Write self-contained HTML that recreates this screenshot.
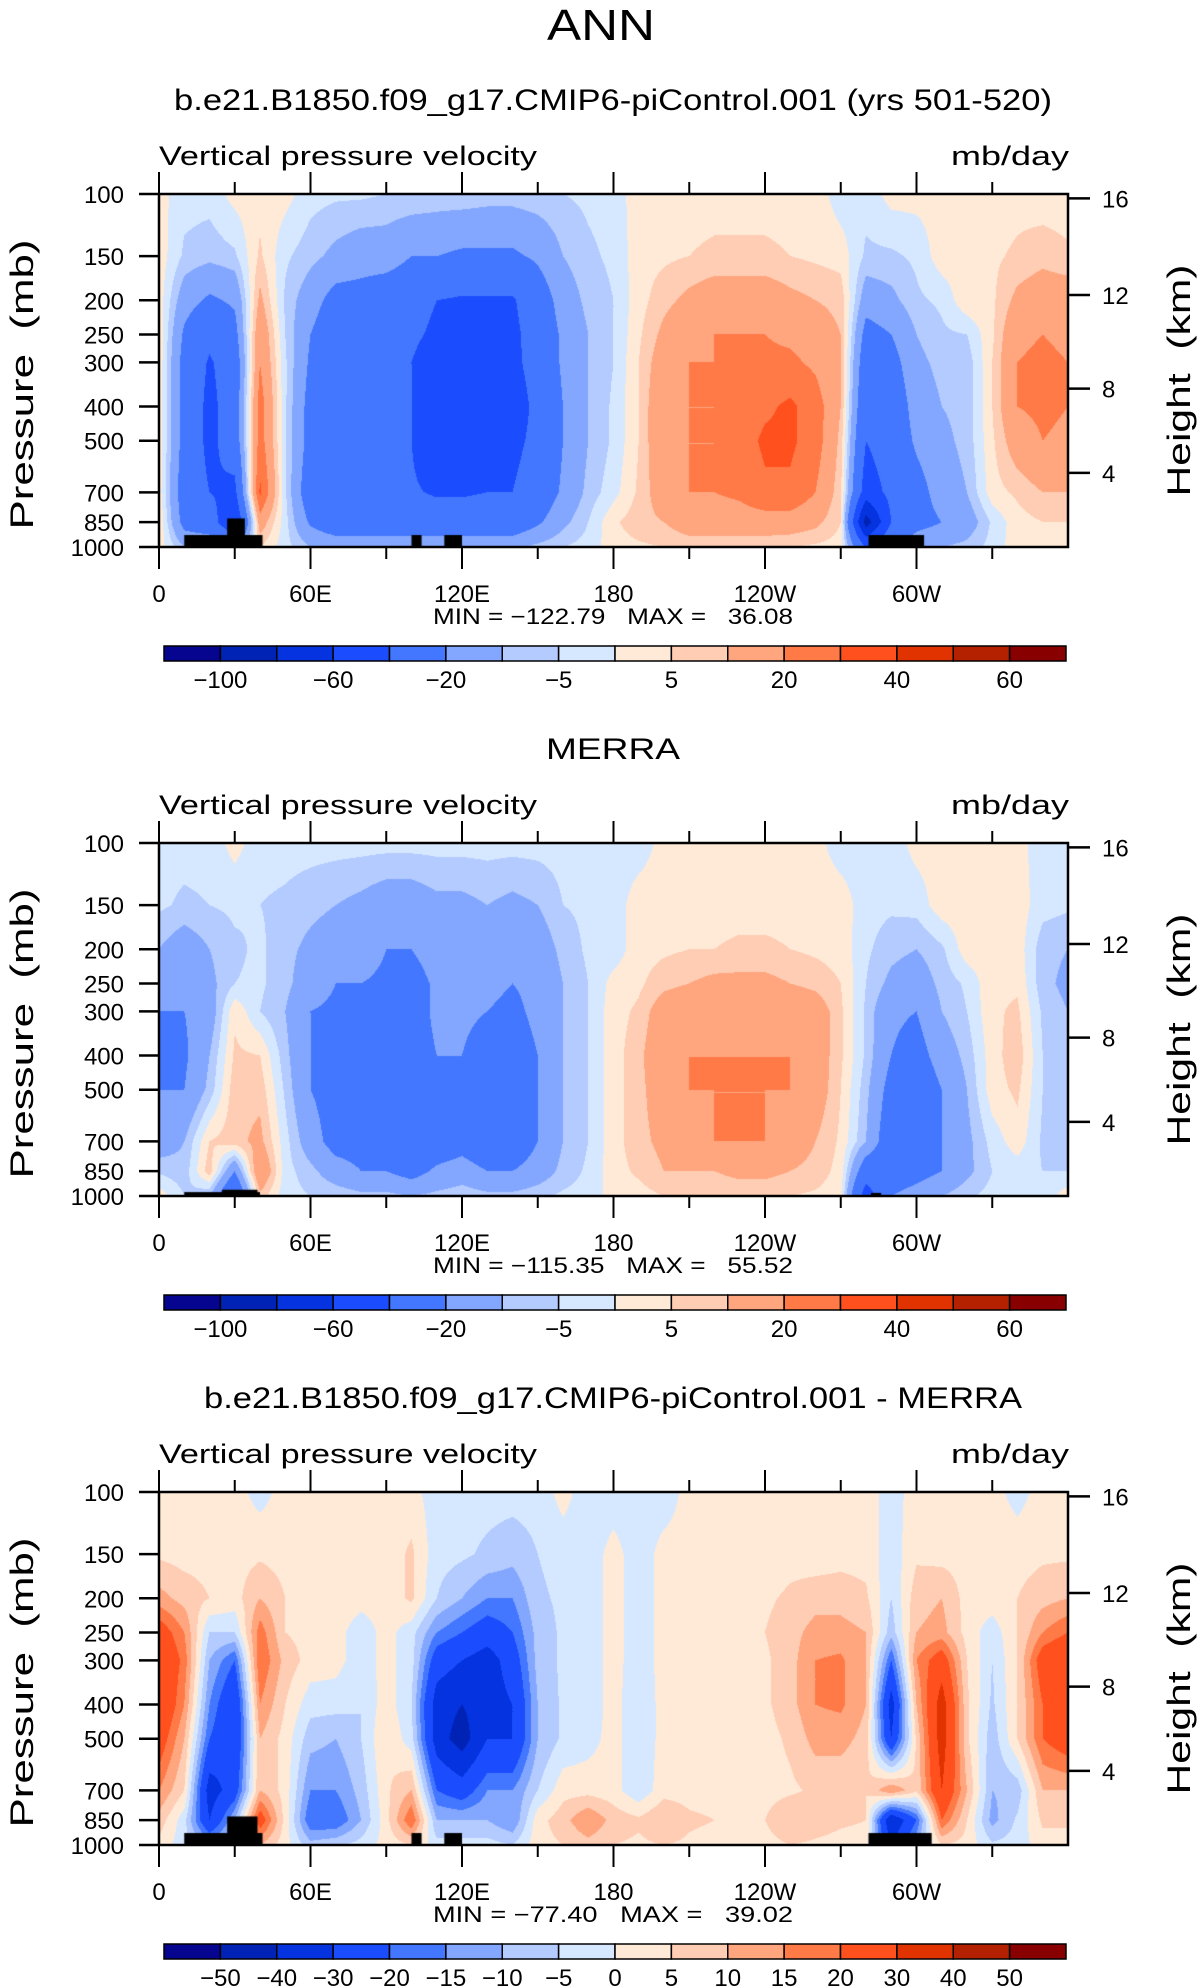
<!DOCTYPE html>
<html><head><meta charset="utf-8">
<style>
html,body{margin:0;padding:0;background:#fff;}
#wrap{position:relative;width:1202px;height:1987px;overflow:hidden;}
canvas{position:absolute;}
svg{position:absolute;left:0;top:0;}
text{font-family:"Liberation Sans",sans-serif;fill:#000;white-space:pre;}
</style></head>
<body>
<div id="wrap">
<canvas id="c0" width="909" height="353" style="left:159px;top:194px"></canvas>
<canvas id="c1" width="909" height="353" style="left:159px;top:843px"></canvas>
<canvas id="c2" width="909" height="353" style="left:159px;top:1492px"></canvas>
<svg id="svg" width="1202" height="1987"></svg>
</div>
<script>
const lons=[0,10,20,30,40,50,60,70,80,90,100,110,120,130,140,150,160,170,180,190,200,210,220,230,240,250,260,270,280,290,300,310,320,330,340,350,360];
const pLevels=[100,150,200,250,300,400,500,700,850,1000];
const panel1Values=[
[2,-3,-3,2,3,2,-3,-4,-4,-5,-5,-6,-6,-7,-7,-6,-5,-4,-3,3,3,3,3,3,3,3,3,-3,-3,2,2,2,2,2,3,2,2],
[3,-6,-8,-6,6,-4,-8,-12,-15,-15,-20,-20,-22,-22,-22,-18,-10,-6,-4,3,4,5,6,6,6,5,4,3,-6,-6,-4,3,3,4,6,8,6],
[3,-15,-22,-18,12,-6,-15,-25,-25,-28,-30,-40,-42,-42,-42,-28,-15,-8,-5,3,8,12,15,15,15,12,10,8,-15,-12,-6,-4,4,4,12,15,15],
[4,-22,-35,-25,18,-5,-20,-30,-30,-32,-35,-45,-45,-45,-45,-30,-18,-10,-5,4,12,18,20,20,20,18,15,10,-25,-20,-10,-6,-5,4,18,20,18],
[4,-25,-42,-30,20,-4,-22,-32,-32,-35,-40,-55,-60,-50,-45,-32,-18,-10,-5,5,15,20,20,20,22,22,18,10,-30,-25,-12,-8,-8,5,20,22,20],
[4,-25,-45,-30,25,-4,-25,-35,-35,-35,-40,-60,-60,-50,-50,-35,-20,-10,-4,5,18,20,20,22,28,32,25,10,-35,-30,-15,-10,-8,5,20,22,20],
[4,-25,-45,-30,25,-4,-25,-35,-35,-35,-40,-55,-55,-45,-45,-35,-20,-10,-4,5,18,20,20,25,32,32,25,8,-40,-30,-18,-12,-8,4,15,20,18],
[3,-28,-40,-45,32,-4,-30,-35,-35,-35,-38,-42,-42,-40,-40,-30,-18,-8,-2,6,15,20,20,22,28,28,20,6,-50,-35,-25,-15,-10,3,6,10,10],
[5,-25,-30,-60,15,-3,-22,-30,-30,-30,-30,-30,-30,-30,-30,-22,-12,-5,4,8,10,15,15,15,15,15,12,5,-90,-40,-25,-20,-15,-4,3,5,5],
[3,-10,-10,-20,5,-3,-10,-12,-12,-12,-12,-12,-12,-12,-12,-8,-5,-3,3,4,5,6,6,6,6,5,4,3,-40,-20,-12,-10,-8,-3,3,3,3]];
const panel2Values=[
[-3,-3,-3,2,-3,-3,-3,-3,-3,-3,-3,-3,-3,-3,-3,-3,-3,-3,-3,-3,2,2,2,2,2,2,2,-3,-3,-3,2,2,2,2,2,-3,-3],
[-4,-6,-5,-4,-5,-6,-8,-10,-12,-15,-15,-12,-12,-10,-12,-10,-5,-4,-3,3,3,3,3,3,3,3,3,3,-3,-4,-3,3,3,3,3,-3,-4],
[-10,-15,-10,-6,-4,-8,-12,-15,-15,-20,-20,-15,-15,-15,-18,-15,-8,-4,-3,3,4,5,5,6,6,5,4,3,-4,-8,-10,-6,3,3,3,-8,-10],
[-15,-18,-12,-5,-4,-8,-15,-20,-20,-22,-25,-18,-18,-18,-20,-18,-10,-5,2,4,8,10,12,12,12,10,8,5,-5,-12,-15,-8,-4,4,4,-8,-12],
[-20,-20,-15,4,-5,-10,-20,-22,-22,-22,-25,-18,-18,-20,-22,-18,-10,-5,3,6,15,18,18,18,18,18,15,6,-6,-18,-20,-10,-5,4,6,-6,-10],
[-22,-22,-10,6,5,-8,-20,-25,-25,-25,-25,-20,-20,-25,-25,-20,-10,-5,3,8,18,20,20,20,20,20,15,6,-6,-20,-25,-15,-8,3,8,-5,-8],
[-20,-20,-8,8,8,-6,-20,-25,-25,-25,-30,-25,-20,-30,-30,-20,-10,-5,3,8,15,20,20,20,20,20,15,5,-8,-25,-30,-20,-10,3,6,-5,-8],
[-15,-10,5,8,12,-3,-15,-25,-25,-25,-30,-28,-25,-30,-30,-20,-10,-5,3,8,12,18,20,20,20,15,10,4,-10,-30,-30,-20,-12,-3,3,-6,-8],
[-6,-8,8,-20,20,-3,-8,-15,-20,-20,-25,-18,-15,-20,-20,-15,-8,-4,3,6,10,10,10,12,12,10,8,3,-30,-30,-25,-20,-12,-5,-3,-5,-5],
[3,-5,-10,-40,8,-3,-5,-6,-8,-8,-10,-8,-6,-8,-8,-6,-4,-3,2,3,5,6,6,6,6,5,4,2,-50,-20,-15,-10,-6,-3,-3,-3,3]];
const panel3Values=[
[2,2,2,2,-2,2,2,2,2,2,2,-3,-3,-3,-3,-3,2,-3,-3,-3,-3,2,2,2,2,2,2,2,2,-2,2,2,2,2,-2,2,2],
[4,3,3,3,4,3,3,3,2,2,6,-3,-4,-6,-8,-5,-3,-3,2,-3,2,2,3,2,2,3,2,3,3,-3,4,3,3,3,3,4,4],
[12,8,5,3,10,5,3,3,2,2,6,-5,-10,-15,-15,-6,-4,-3,2,-3,2,2,3,3,4,6,8,8,6,-5,8,10,3,3,5,8,10],
[25,15,-5,-5,18,5,3,2,-3,2,-3,-15,-20,-25,-20,-8,-4,-3,2,-3,2,2,3,3,5,8,12,12,10,-8,10,12,3,-3,5,15,20],
[30,18,-10,-20,20,8,3,2,-3,2,-3,-25,-30,-35,-25,-8,-4,-3,2,-3,2,2,3,3,4,8,15,16,10,-20,15,25,5,-5,5,25,30],
[30,15,-15,-30,15,5,-3,-3,-5,3,-5,-35,-40,-35,-30,-10,-4,-3,2,-4,2,2,3,3,4,8,15,16,10,-35,10,35,6,-6,5,20,30],
[25,10,-20,-30,10,3,-8,-10,-5,5,-3,-35,-45,-30,-30,-10,-4,-2,2,-4,2,2,3,3,3,6,12,12,8,-30,6,35,6,-8,5,20,25],
[15,5,-35,-25,10,3,-15,-15,-8,4,10,-20,-25,-15,-15,-5,3,3,2,-4,3,3,3,3,3,4,6,6,5,15,6,30,10,-10,-8,10,10],
[8,-3,-30,-10,25,3,-20,-20,-10,3,20,-10,-10,-10,-15,3,8,15,8,6,10,6,5,5,5,10,8,6,5,-40,-20,20,5,-12,-4,6,6],
[3,-3,-10,-5,10,2,-8,-6,-3,2,5,-3,-3,-3,-5,3,5,8,5,4,5,4,3,3,3,5,4,3,3,-30,-10,5,3,-4,-3,3,3]];
const levelsAbs=[-100,-80,-60,-40,-20,-10,-5,0,5,10,20,30,40,50,60];
const labelsAbs=["−100","","−60","","−20","","−5","","5","","20","","40","","60"];
const levelsDiff=[-50,-40,-30,-20,-15,-10,-5,0,5,10,15,20,30,40,50];
const labelsDiff=["−50","−40","−30","−20","−15","−10","−5","0","5","10","15","20","30","40","50"];
const colors=['#05058f','#0022b5','#0433df','#1b4dff','#4477ff','#83a7ff','#b3cbff','#d6e8ff','#ffead8','#ffcdb3','#ffa67f','#ff7a47','#ff501e','#e03300','#b42100','#880000'];
const topoLand=[[[10,41,925],[27,34,830],[100,104,925],[113,120,925],[281,303,925]],
 [[10,40,975],[25,39,960],[282,286,980]],
 [[10,41,925],[27,39,830],[100,104,925],[113,120,925],[281,306,925]]];
const pressureTicks=[100,150,200,250,300,400,500,700,850,1000];
const heightTicks=[16,12,8,4];
const lonTicks=[0,30,60,90,120,150,180,210,240,270,300,330];
const lonLabels={0:"0",60:"60E",120:"120E",180:"180",240:"120W",300:"60W"};
const titles=["b.e21.B1850.f09_g17.CMIP6-piControl.001 (yrs 501-520)","MERRA","b.e21.B1850.f09_g17.CMIP6-piControl.001 - MERRA"];
const minmax=[["−122.79","36.08"],["−115.35","55.52"],["−77.40","39.02"]];

const X0=159,X1=1068,PT=194,PB=547,DY=649;
const W=X1-X0,H=PB-PT;
function xOf(lon){return lon/360*W;}
function yOf(p){return (Math.log10(p)-2)*H;}
function pOfZ(zkm){const z=zkm*1000;return z<=11000?1013.25*Math.pow(1-2.25577e-5*z,5.25588):226.32*Math.exp(-(z-11000)/6341.6);}
function colorIdx(v,levels){let k=0;while(k<levels.length&&v>=levels[k])k++;return k;}
function hex(c){return [parseInt(c.slice(1,3),16),parseInt(c.slice(3,5),16),parseInt(c.slice(5,7),16)];}
const rgb=colors.map(hex);
const lp=pLevels.map(p=>Math.log10(p));

function drawField(cid,vals,levels,topo){
  const cv=document.getElementById(cid),ctx=cv.getContext('2d');
  const img=ctx.createImageData(W,H);
  for(let py=0;py<H;py++){
    const l=2+(py+0.5)/H;
    let j=0;while(j<lp.length-2&&l>lp[j+1])j++;
    const ty=Math.min(1,Math.max(0,(l-lp[j])/(lp[j+1]-lp[j])));
    for(let px=0;px<W;px++){
      const lon=(px+0.5)/W*360;
      let i=Math.min(lons.length-2,Math.floor(lon/10));
      const tx=(lon-lons[i])/(lons[i+1]-lons[i]);
      const v=(vals[j][i]*(1-tx)+vals[j][i+1]*tx)*(1-ty)+(vals[j+1][i]*(1-tx)+vals[j+1][i+1]*tx)*ty;
      const c=rgb[colorIdx(v,levels)];
      const o=(py*W+px)*4;img.data[o]=c[0];img.data[o+1]=c[1];img.data[o+2]=c[2];img.data[o+3]=255;
    }
  }
  ctx.putImageData(img,0,0);
  ctx.fillStyle='#000';
  topo.forEach(t=>{const x=xOf(t[0]),y=yOf(t[2]);ctx.fillRect(x,y,xOf(t[1])-x,H-y);});
}
drawField('c0',panel1Values,levelsAbs,topoLand[0]);
drawField('c1',panel2Values,levelsAbs,topoLand[1]);
drawField('c2',panel3Values,levelsDiff,topoLand[2]);

const svg=document.getElementById('svg');
const NS='http://www.w3.org/2000/svg';
function mk(tag,attrs,txt){const e=document.createElementNS(NS,tag);for(const k in attrs)e.setAttribute(k,attrs[k]);if(txt!==undefined)e.textContent=txt;svg.appendChild(e);return e;}

let t=mk('text',{x:601,y:40,'text-anchor':'middle','font-size':44,'font-weight':'300',textLength:108,lengthAdjust:'spacingAndGlyphs'},'ANN');



for(let k=0;k<3;k++){
  const off=k*DY;
  const tl=k===0?878:(k===1?134:818);
  t=mk('text',{x:613,y:110+off,'text-anchor':'middle','font-size':30,textLength:tl,lengthAdjust:'spacingAndGlyphs'},titles[k]);
  
  
  t=mk('text',{x:159,y:165+off,'font-size':27,textLength:378,lengthAdjust:'spacingAndGlyphs'},'Vertical pressure velocity');
  
  
  t=mk('text',{x:1069,y:165+off,'text-anchor':'end','font-size':27,textLength:118,lengthAdjust:'spacingAndGlyphs'},'mb/day');
  
  
  let r=mk('rect',{x:X0,y:PT+off,width:W,height:H,fill:'none',stroke:'#000','stroke-width':2.5});
  
  
  pressureTicks.forEach(p=>{
    const y=PT+off+yOf(p);
    let l=mk('line',{x1:X0-20,y1:y,x2:X0,y2:y,stroke:'#000','stroke-width':2.5});
    
    
    let tx=mk('text',{x:124,y:y+9,'text-anchor':'end','font-size':24},String(p));
    
    
  });
  heightTicks.forEach(z=>{
    const y=PT+off+yOf(pOfZ(z));
    let l=mk('line',{x1:X1,y1:y,x2:X1+22,y2:y,stroke:'#000','stroke-width':2.5});
    
    
    let tx=mk('text',{x:1102,y:y+9,'font-size':24},String(z));
    
    
  });
  lonTicks.forEach(lon=>{
    const x=X0+xOf(lon),major=lon%60===0,len=major?22:12;
    let l=mk('line',{x1:x,y1:PT+off-len,x2:x,y2:PT+off,stroke:'#000','stroke-width':2});
    
    
    l=mk('line',{x1:x,y1:PB+off,x2:x,y2:PB+off+len,stroke:'#000','stroke-width':2});
    
    
    if(major){
      let tx=mk('text',{x:x,y:602+off,'text-anchor':'middle','font-size':24},lonLabels[lon]);
      
      
    }
  });
  t=mk('text',{x:613,y:624+off,'text-anchor':'middle','font-size':22,textLength:360,lengthAdjust:'spacingAndGlyphs'},'MIN = '+minmax[k][0]+'\u00a0\u00a0 MAX =\u00a0\u00a0 '+minmax[k][1]);
  
  
  t=mk('text',{x:0,y:0,'text-anchor':'middle','font-size':32,transform:`translate(33,${PT+off+H/2+14}) rotate(-90)`,textLength:290,lengthAdjust:'spacingAndGlyphs'},'Pressure\u00a0\u00a0(mb)');
  
  
  t=mk('text',{x:0,y:0,'text-anchor':'middle','font-size':32,transform:`translate(1190,${PT+off+H/2+10}) rotate(-90)`,textLength:232,lengthAdjust:'spacingAndGlyphs'},'Height\u00a0\u00a0(km)');
  
  
  const cbx=164,cbw=902,cby=646+off,cbh=15,bw=cbw/colors.length;
  const labs=k===2?labelsDiff:labelsAbs;
  colors.forEach((c,i)=>{
    let b=mk('rect',{x:cbx+i*bw,y:cby,width:bw,height:cbh,fill:c,stroke:'#000','stroke-width':1.5});
    
    
  });
  labs.forEach((s,i)=>{
    if(!s)return;
    let tx=mk('text',{x:cbx+(i+1)*bw,y:688+off,'text-anchor':'middle','font-size':24},s);
    
    
  });
}
</script>
</body></html>
